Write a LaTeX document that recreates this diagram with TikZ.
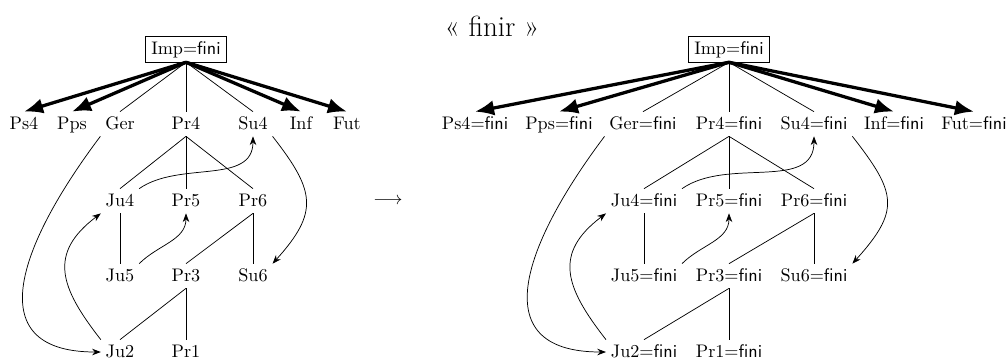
\documentclass[tikz,border=0pt]{standalone}
\usepackage{fontspec}
\usetikzlibrary{arrows.meta}
\begin{document}
\begin{tikzpicture}[x=0.55pt,y=-0.55pt,
  lbl/.style={inner sep=2.5pt, text height=1.6ex, text depth=0.3ex},
  impbox/.style={lbl, draw, inner sep=3pt},
  bigarrow/.style={line width=1.8pt, -{Latex[length=10.5pt,width=8.5pt]}},
  thinline/.style={line width=0.4pt},
  curvearrow/.style={line width=0.4pt, -{Stealth[length=4.8pt,width=3.6pt]}}]
\useasboundingbox (0,0) rectangle (1007,358);
\newcommand{\fn}{\textsf{fini}}
% ---------- left graph ----------
\node[impbox] (Imp) at (186,49) {Imp=\fn};
\node[lbl] (Ps4) at (24,124) {Ps4};
\node[lbl] (Pps) at (72,124) {Pps};
\node[lbl] (Ger) at (120,124) {Ger};
\node[lbl] (Pr4) at (186,124) {Pr4};
\node[lbl] (Su4) at (253,124) {Su4};
\node[lbl] (Inf) at (301,124) {Inf};
\node[lbl] (Fut) at (347,124) {Fut};
\node[lbl] (Ju4) at (120,201) {Ju4};
\node[lbl] (Pr5) at (186,201) {Pr5};
\node[lbl] (Pr6) at (253,201) {Pr6};
\node[lbl] (Ju5) at (120,276) {Ju5};
\node[lbl] (Pr3) at (186,276) {Pr3};
\node[lbl] (Su6) at (253,276) {Su6};
\node[lbl] (Ju2) at (120,352) {Ju2};
\node[lbl] (Pr1) at (186,352) {Pr1};
\draw[bigarrow] (Imp.south) -- (Ps4.north);
\draw[bigarrow] (Imp.south) -- (Pps.north);
\draw[bigarrow] (Imp.south) -- (Inf.north);
\draw[bigarrow] (Imp.south) -- (Fut.north);
\draw[thinline] (Imp.south) -- (Ger.north);
\draw[thinline] (Imp.south) -- (Pr4.north);
\draw[thinline] (Imp.south) -- (Su4.north);
\draw[thinline] (Pr4.south) -- (Ju4.north);
\draw[thinline] (Pr4.south) -- (Pr5.north);
\draw[thinline] (Pr4.south) -- (Pr6.north);
\draw[thinline] (Ju4.south) -- (Ju5.north);
\draw[thinline] (Pr6.south) -- (Pr3.north);
\draw[thinline] (Pr6.south) -- (Su6.north);
\draw[thinline] (Pr3.south) -- (Ju2.north);
\draw[thinline] (Pr3.south) -- (Pr1.north);
\draw[curvearrow] (Ju4.north east) to[out=35,in=-90] (Su4.south);
\draw[curvearrow] (Ju5.north east) to[out=45,in=-90] (Pr5.south);
\draw[curvearrow] (Ju2.north west) to[out=128,in=-143,looseness=1.35] (Ju4.south west);
\draw[curvearrow] (Ger.south west) to[out=-127,in=180,looseness=1.5] (Ju2.west);
\draw[curvearrow] (Su4.south east) to[out=-52,in=48,looseness=1.4] (Su6.north east);
% ---------- middle ----------
\node (title) at (492,26) {\fontsize{16}{19}\selectfont « finir »};
\node (arr) at (388,201) {$\longrightarrow$};
% ---------- right graph ----------
\node[impbox] (RImp) at (729,49) {Imp=\fn};
\node[lbl] (RPs4) at (475,124) {Ps4=\fn};
\node[lbl] (RPps) at (559,124) {Pps=\fn};
\node[lbl] (RGer) at (643,124) {Ger=\fn};
\node[lbl] (RPr4) at (729,124) {Pr4=\fn};
\node[lbl] (RSu4) at (814,124) {Su4=\fn};
\node[lbl] (RInf) at (894,124) {Inf=\fn};
\node[lbl] (RFut) at (974,124) {Fut=\fn};
\node[lbl] (RJu4) at (644,201) {Ju4=\fn};
\node[lbl] (RPr5) at (729,201) {Pr5=\fn};
\node[lbl] (RPr6) at (814,201) {Pr6=\fn};
\node[lbl] (RJu5) at (644,276) {Ju5=\fn};
\node[lbl] (RPr3) at (729,276) {Pr3=\fn};
\node[lbl] (RSu6) at (814,276) {Su6=\fn};
\node[lbl] (RJu2) at (644,352) {Ju2=\fn};
\node[lbl] (RPr1) at (729,352) {Pr1=\fn};
\draw[bigarrow] (RImp.south) -- (RPs4.north);
\draw[bigarrow] (RImp.south) -- (RPps.north);
\draw[bigarrow] (RImp.south) -- (RInf.north);
\draw[bigarrow] (RImp.south) -- (RFut.north);
\draw[thinline] (RImp.south) -- (RGer.north);
\draw[thinline] (RImp.south) -- (RPr4.north);
\draw[thinline] (RImp.south) -- (RSu4.north);
\draw[thinline] (RPr4.south) -- (RJu4.north);
\draw[thinline] (RPr4.south) -- (RPr5.north);
\draw[thinline] (RPr4.south) -- (RPr6.north);
\draw[thinline] (RJu4.south) -- (RJu5.north);
\draw[thinline] (RPr6.south) -- (RPr3.north);
\draw[thinline] (RPr6.south) -- (RSu6.north);
\draw[thinline] (RPr3.south) -- (RJu2.north);
\draw[thinline] (RPr3.south) -- (RPr1.north);
\draw[curvearrow] (RJu4.north east) to[out=35,in=-90] (RSu4.south);
\draw[curvearrow] (RJu5.north east) to[out=45,in=-90] (RPr5.south);
\draw[curvearrow] (RJu2.north west) to[out=128,in=-143,looseness=1.35] (RJu4.south west);
\draw[curvearrow] (RGer.south west) to[out=-127,in=180,looseness=1.5] (RJu2.west);
\draw[curvearrow] (RSu4.south east) to[out=-52,in=48,looseness=1.45] (RSu6.north east);
\end{tikzpicture}
\end{document}
